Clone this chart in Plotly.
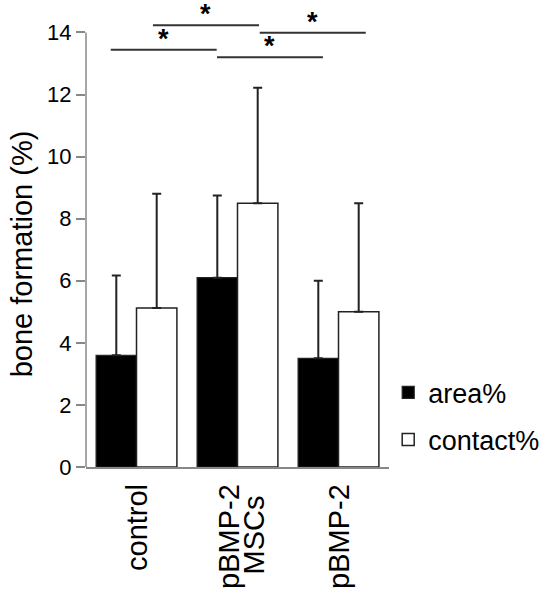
import plotly.graph_objects as go

groups = ["control", "pBMP-2<br>MSCs", "pBMP-2"]
area = [3.6, 6.1, 3.5]
area_err = [2.57, 2.65, 2.5]
contact = [5.12, 8.5, 5.0]
contact_err = [3.68, 3.72, 3.5]

# significance brackets
sig_x0 = [-0.255, 0.163, 0.797, 1.22]
sig_x1 = [0.794, 1.213, 1.846, 2.27]
sig_y = [13.44, 14.23, 13.2, 13.99]
sig_label = ["*", "*", "*", "*"]

y_title = "bone formation (%)"

FONT = "Liberation Sans, Arial, sans-serif"
ERRC = "#222222"
XFONT = 29

fig = go.Figure()
fig.add_trace(go.Bar(
    x=groups, y=area, name="area%",
    marker=dict(color="black", line=dict(color="#222222", width=1.2)),
    error_y=dict(type="data", array=area_err, arrayminus=[0]*3, symmetric=False,
                 color=ERRC, thickness=2, width=4.5),
    legendgroup="a",
))
fig.add_trace(go.Bar(
    x=groups, y=contact, name="contact%",
    marker=dict(color="white", line=dict(color="#222222", width=1.5)),
    error_y=dict(type="data", array=contact_err, arrayminus=[0]*3, symmetric=False,
                 color=ERRC, thickness=2, width=4.5),
    legendgroup="b",
))

for x0, x1, y, lab in zip(sig_x0, sig_x1, sig_y, sig_label):
    fig.add_shape(type="line", xref="x", yref="y", x0=x0, x1=x1, y0=y, y1=y,
                  line=dict(color="#333333", width=2))
    fig.add_annotation(x=(x0 + x1) / 2, y=y, xref="x", yref="y", text="<b>" + lab + "</b>",
                       showarrow=False, yanchor="bottom", yshift=-6,
                       font=dict(family=FONT, size=27, color="black"))

# category labels (rotated); lines of multi-line labels side by side
line_shift = [[0], [-9, 16], [0]]
for i, g in enumerate(groups):
    lines = g.split("<br>")
    for j, ln in enumerate(lines):
        xs = line_shift[i][j]
        if j == 0:
            fig.add_annotation(x=i, y=0, xref="x", yref="y", text=ln, textangle=-90,
                               showarrow=False, xanchor="center", yanchor="top",
                               xshift=xs, yshift=-15,
                               font=dict(family=FONT, size=XFONT, color="black"))
        else:
            fig.add_annotation(x=i, y=0, xref="x", yref="y", text=ln, textangle=-90,
                               showarrow=False, xanchor="center", yanchor="middle",
                               xshift=xs, yshift=-68,
                               font=dict(family=FONT, size=XFONT, color="black"))

# y-axis title
fig.add_annotation(x=-0.211, y=0.476, xref="paper", yref="paper", text=y_title,
                   textangle=-90, showarrow=False, xanchor="center", yanchor="middle",
                   font=dict(family=FONT, size=29, color="black"))

# y axis line ending at 14
fig.add_shape(type="line", xref="paper", yref="y", x0=0, x1=0, y0=0, y1=14,
              line=dict(color="#888888", width=1.5))

fig.update_layout(
    width=553, height=589,
    margin=dict(l=86, r=164, t=20, b=122, autoexpand=False),
    paper_bgcolor="white", plot_bgcolor="white",
    barmode="group", bargap=0.2, bargroupgap=0,
    font=dict(family=FONT, size=22, color="black"),
    showlegend=True,
    legend=dict(xref="container", yref="container", x=0.702, y=0.293,
                xanchor="left", yanchor="middle",
                font=dict(family=FONT, size=27, color="black"),
                traceorder="grouped", tracegroupgap=9,
                bgcolor="rgba(0,0,0,0)"),
    xaxis=dict(range=[-0.5, 2.5], showline=True, linecolor="#888888", linewidth=1.5,
               ticks="", showticklabels=False, showgrid=False, zeroline=False,
               automargin=False),
    yaxis=dict(range=[0, 14.4], tickvals=[0, 2, 4, 6, 8, 10, 12, 14],
               showline=False, ticks="outside", ticklen=9, tickcolor="#888888",
               tickwidth=1.5, showgrid=False, zeroline=False, automargin=False,
               tickfont=dict(family=FONT, size=22, color="black")),
)

fig.write_html("out.html", config={"displayModeBar": False},
               post_script="document.body.style.margin='0';document.body.style.overflow='hidden';")
